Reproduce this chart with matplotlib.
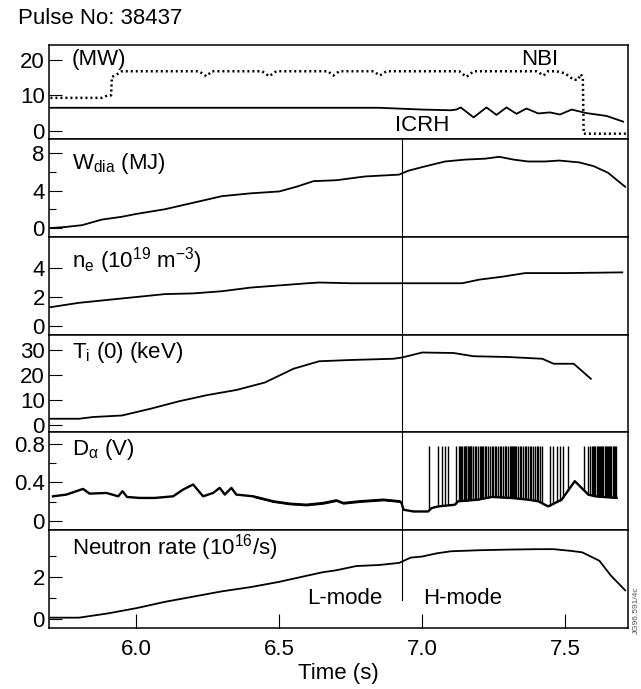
import matplotlib
matplotlib.use("Agg")
import matplotlib.pyplot as plt
import numpy as np

plt.rcParams['font.family'] = ['Liberation Sans', 'DejaVu Sans']
plt.rcParams['mathtext.fontset'] = 'custom'
plt.rcParams['mathtext.rm'] = 'Liberation Sans'
plt.rcParams['mathtext.it'] = 'Liberation Sans'
plt.rcParams['mathtext.default'] = 'regular'

# ---------------- data ----------------
# Panel 1: heating power (MW)
nbi_t = [5.70, 5.88, 5.90, 5.912, 5.915, 5.93, 5.95, 6.22, 6.245, 6.265, 6.44, 6.465, 6.49,
         6.67, 6.69, 6.71, 6.83, 6.852, 6.875, 7.13, 7.155, 7.18, 7.40, 7.425, 7.44, 7.47,
         7.50, 7.53, 7.545, 7.555, 7.562, 7.565, 7.72]
nbi_p = [9.3, 9.3, 10.0, 10.0, 15.2, 15.8, 16.8, 16.8, 15.4, 16.8, 16.8, 15.4, 16.8,
         16.8, 15.6, 16.8, 16.8, 15.6, 16.8, 16.8, 15.2, 16.8, 16.8, 15.6, 16.8, 16.8,
         16.2, 14.4, 14.4, 16.0, 15.0, -0.8, -0.8]
icrh_t = [5.70, 6.50, 6.85, 7.00, 7.10, 7.12, 7.135, 7.18, 7.225, 7.26, 7.295, 7.33, 7.365,
          7.406, 7.447, 7.482, 7.523, 7.575, 7.645, 7.703]
icrh_p = [6.5, 6.5, 6.5, 6.0, 5.8, 6.0, 6.6, 3.8, 6.6, 4.5, 6.6, 4.8, 6.3,
          4.9, 5.2, 4.6, 6.0, 5.0, 4.2, 2.6]

# Panel 2: diamagnetic energy (MJ)
wdia_t = [5.70, 5.75, 5.81, 5.88, 5.95, 6.00, 6.10, 6.20, 6.30, 6.40, 6.50, 6.56, 6.62,
          6.70, 6.80, 6.92, 6.95, 7.00, 7.08, 7.15, 7.22, 7.27, 7.32, 7.37, 7.43, 7.48,
          7.55, 7.60, 7.65, 7.71]
wdia_v = [0.0, 0.1, 0.3, 0.9, 1.2, 1.5, 2.0, 2.7, 3.4, 3.7, 3.9, 4.4, 5.0,
          5.1, 5.5, 5.7, 6.1, 6.5, 7.1, 7.3, 7.4, 7.6, 7.3, 7.1, 7.1, 7.2,
          7.0, 6.6, 5.9, 4.4]

# Panel 3: electron density (1e19 m^-3)
ne_t = [5.70, 5.80, 5.90, 6.00, 6.10, 6.20, 6.30, 6.40, 6.50, 6.60, 6.64, 6.75, 6.90,
        7.05, 7.14, 7.20, 7.28, 7.36, 7.50, 7.70]
ne_v = [1.3, 1.6, 1.8, 2.0, 2.2, 2.25, 2.4, 2.65, 2.8, 2.95, 3.0, 2.95, 2.95,
        2.95, 2.95, 3.2, 3.4, 3.65, 3.65, 3.7]

# Panel 4: ion temperature (keV)
ti_t = [5.70, 5.80, 5.85, 5.95, 6.05, 6.15, 6.25, 6.35, 6.45, 6.55, 6.64, 6.75, 6.90,
        6.93, 7.00, 7.11, 7.18, 7.30, 7.42, 7.46, 7.53, 7.59]
ti_v = [2.5, 2.5, 3.2, 3.8, 6.5, 9.5, 12.0, 14.0, 17.0, 22.5, 25.5, 26.0, 26.5,
        27.0, 29.0, 28.8, 27.5, 27.2, 26.5, 24.5, 24.5, 18.5]

# Panel 5: D-alpha (V) baseline and ELM spike times
da_t = [5.709, 5.756, 5.814, 5.837, 5.896, 5.937, 5.952, 5.968, 6.012, 6.065, 6.129,
        6.164, 6.199, 6.234, 6.269, 6.292, 6.310, 6.333, 6.350, 6.409, 6.479, 6.537,
        6.595, 6.654, 6.700, 6.724, 6.782, 6.864, 6.922, 6.928, 6.935, 6.970, 7.021,
        7.033, 7.056, 7.114, 7.126, 7.196, 7.243, 7.312, 7.371, 7.406, 7.441, 7.488,
        7.534, 7.581, 7.605, 7.680]
da_v = [0.256, 0.274, 0.333, 0.284, 0.291, 0.256, 0.309, 0.249, 0.239, 0.239, 0.256,
        0.326, 0.379, 0.256, 0.291, 0.344, 0.274, 0.344, 0.274, 0.256, 0.204, 0.179,
        0.168, 0.186, 0.214, 0.186, 0.204, 0.221, 0.204, 0.186, 0.116, 0.098, 0.098,
        0.133, 0.151, 0.168, 0.204, 0.221, 0.249, 0.239, 0.221, 0.204, 0.151, 0.221,
        0.414, 0.274, 0.256, 0.239]
elm_t = [7.0245, 7.054, 7.068, 7.079, 7.091, 7.118, 7.128, 7.132, 7.137, 7.141, 7.145,
         7.149, 7.152, 7.155, 7.160, 7.163, 7.166, 7.170, 7.172, 7.178, 7.184, 7.190,
         7.196, 7.201, 7.205, 7.210, 7.214, 7.219, 7.224, 7.231, 7.236, 7.243, 7.248,
         7.254, 7.260, 7.266, 7.271, 7.277, 7.283, 7.289, 7.295, 7.301, 7.306, 7.310,
         7.314, 7.318, 7.322, 7.326, 7.330, 7.336, 7.342, 7.347, 7.353, 7.359, 7.365,
         7.371, 7.377, 7.382, 7.388, 7.394, 7.400, 7.406, 7.412, 7.418, 7.447, 7.459,
         7.470, 7.482, 7.493, 7.511, 7.566, 7.581, 7.587, 7.593, 7.598, 7.602, 7.606,
         7.610, 7.614, 7.618, 7.622, 7.626, 7.630, 7.634, 7.638, 7.642, 7.646, 7.650,
         7.654, 7.658, 7.662, 7.666, 7.670, 7.674, 7.678]
elm_peak = 0.78

# Panel 6: neutron rate (1e16 /s)
neu_t = [5.70, 5.80, 5.85, 5.90, 6.00, 6.10, 6.20, 6.30, 6.40, 6.50, 6.60, 6.65, 6.70,
         6.77, 6.85, 6.92, 6.96, 7.00, 7.05, 7.10, 7.20, 7.30, 7.40, 7.46, 7.52, 7.56,
         7.59, 7.62, 7.66, 7.71]
neu_v = [0.05, 0.05, 0.15, 0.25, 0.5, 0.8, 1.05, 1.3, 1.5, 1.75, 2.05, 2.2, 2.3,
         2.5, 2.55, 2.65, 2.9, 2.95, 3.1, 3.2, 3.25, 3.28, 3.3, 3.3, 3.22, 3.15,
         2.95, 2.75, 2.05, 1.35]

t_transition = 6.928
xlim = (5.695, 7.72)

# ---------------- figure ----------------
W, H = 641, 689
fig = plt.figure(figsize=(W / 100, H / 100), dpi=100)
left_px, right_px = 49, 628
bounds = [45, 139, 237, 335, 432, 530, 628]
axes = []
for i in range(6):
    top, bot = bounds[i], bounds[i + 1]
    ax = fig.add_axes([left_px / W, 1 - bot / H, (right_px - left_px) / W, (bot - top) / H])
    axes.append(ax)

fs = 16
lw = 1.3
for ax in axes:
    ax.set_xlim(*xlim)
    for s in ax.spines.values():
        s.set_linewidth(1.1)
    ax.tick_params(axis='y', direction='in', length=9, width=0.8, labelsize=fs, pad=3)
    ax.tick_params(axis='y', which='minor', direction='in', length=5, width=0.8)
    ax.tick_params(axis='x', which='both', bottom=False, top=False, labelbottom=False)

# Panel 1
ax = axes[0]
ax.plot(nbi_t, nbi_p, color='black', lw=1.8, linestyle=(0, (0.8, 1.2)))
ax.plot(icrh_t, icrh_p, color='black', lw=lw)
ax.set_ylim(-2.3, 24.2)
ax.set_yticks([0, 10, 20])
ax.text(5.775, 20, '(MW)', fontsize=fs, va='center', ha='left')
ax.text(7.41, 20, 'NBI', fontsize=fs, va='center', ha='center')
ax.text(7.0, 1.4, 'ICRH', fontsize=fs, va='center', ha='center')

# Panel 2
ax = axes[1]
ax.plot(wdia_t, wdia_v, color='black', lw=lw)
ax.set_ylim(-0.96, 9.5)
ax.set_yticks([0, 4, 8])
ax.set_yticks([2, 6], minor=True)
ax.text(5.775, 6.9, r'W$_{dia}$ (MJ)', fontsize=fs, va='center', ha='left')

# Panel 3
ax = axes[2]
ax.plot(ne_t, ne_v, color='black', lw=lw)
ax.set_ylim(-0.62, 6.14)
ax.set_yticks([0, 2, 4])
ax.text(5.775, 4.5, r'n$_e$ (10$^{19}$ m$^{-3}$)', fontsize=fs, va='center', ha='left')

# Panel 4
ax = axes[3]
ax.plot(ti_t, ti_v, color='black', lw=lw)
ax.set_ylim(-2.8, 36)
ax.set_yticks([0, 10, 20, 30])
ax.text(5.775, 29.0, r'T$_i$ (0) (keV)', fontsize=fs, va='center', ha='left')

# Panel 5
ax = axes[4]
da_t_arr = np.array(da_t)
da_v_arr = np.array(da_v)
ax.plot(da_t_arr, da_v_arr, color='black', lw=1.7)
band = (da_t_arr >= 6.40) & (da_t_arr <= 6.93)
ax.fill_between(da_t_arr[band], da_v_arr[band] - 0.012, da_v_arr[band] + 0.012,
                color='black', lw=0)
elm_base = np.interp(elm_t, da_t, da_v)
ax.vlines(elm_t, elm_base, elm_peak, color='black', lw=1.0)
ax.set_ylim(-0.095, 0.926)
ax.set_yticks([0, 0.4, 0.8])
ax.set_yticklabels(['0', '0.4', '0.8'])
ax.set_yticks([0.2, 0.6], minor=True)
ax.text(5.775, 0.74, r'D$_{\alpha}$ (V)', fontsize=fs, va='center', ha='left')

# Panel 6
ax = axes[5]
ax.plot(neu_t, neu_v, color='black', lw=lw)
ax.set_ylim(-0.44, 4.21)
ax.set_yticks([0, 2])
ax.set_yticks([1, 3], minor=True)
ax.text(5.775, 3.4, r'Neutron rate (10$^{16}$/s)', fontsize=fs, va='center', ha='left')
ax.text(6.73, 0.95, 'L-mode', fontsize=fs, va='center', ha='center')
ax.text(7.14, 0.95, 'H-mode', fontsize=fs, va='center', ha='center')
ax.set_xticks([6.0, 6.5, 7.0, 7.5])
ax.set_xticklabels(['6.0', '6.5', '7.0', '7.5'])
ax.tick_params(axis='x', which='major', bottom=True, labelbottom=True, direction='in',
               length=10, width=0.8, labelsize=fs, pad=8)

# transition line (L-H)
for ax in axes[1:5]:
    ax.axvline(t_transition, color='black', lw=0.8)
axes[5].plot([t_transition, t_transition], [0.9, 4.21], color='black', lw=0.8)

fig.text(18 / W, 1 - 18 / H, 'Pulse No: 38437', fontsize=fs, va='center', ha='left')
fig.text(338.5 / W, 1 - 673 / H, 'Time (s)', fontsize=fs, va='center', ha='center')
fig.text(636 / W, 1 - 610 / H, 'JG96.591/4c', fontsize=6, va='center', ha='center',
         rotation=90, color='#555555')

fig.savefig('out.png', dpi=100)
